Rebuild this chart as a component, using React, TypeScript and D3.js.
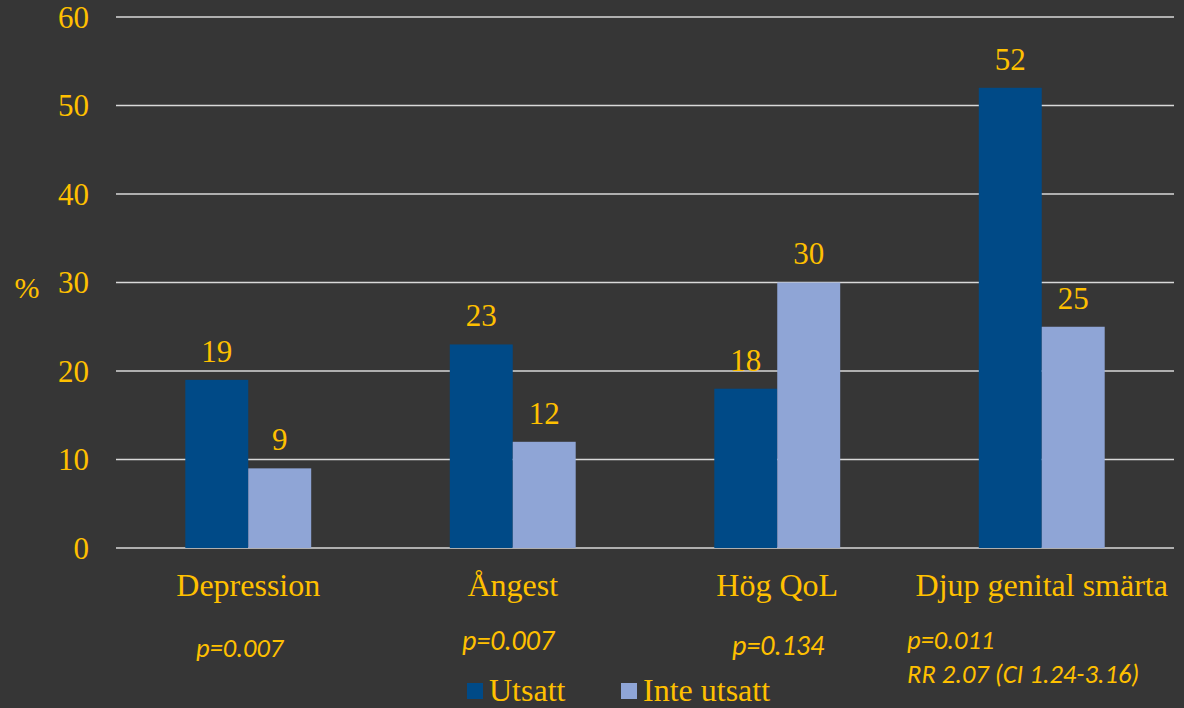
import { useEffect, useRef } from 'react';
import * as d3 from 'd3';

const categories = ['Depression', 'Ångest', 'Hög QoL', 'Djup genital smärta'];
const utsatt = [19, 23, 18, 52];
const inteUtsatt = [9, 12, 30, 25];
const seriesNames = ['Utsatt', 'Inte utsatt'];
const yTicks = [0, 10, 20, 30, 40, 50, 60];
const pNotes = [['p=0.007'], ['p=0.007'], ['p=0.134'], ['p=0.011', 'RR 2.07 (CI 1.24-3.16)']];

const W = 1184;
const H = 708;
const BG = '#363636';
const GOLD = '#ffc000';
const COLORS = ['#004a87', '#8fa5d6'];
const SERIF = '"Liberation Serif", "Times New Roman", serif';
const SANS = '"Carlito", "Liberation Sans", "Open Sans", sans-serif';

export default function App() {
    const svgRef = useRef<SVGSVGElement>(null);

    useEffect(() => {
        if (!svgRef.current) return;
        const svg = d3.select(svgRef.current);
        svg.selectAll('*').remove();

        const margin = { top: 17, left: 116 };
        const plotRight = 1174;
        const plotBottom = 548;

        svg.append('rect').attr('width', W).attr('height', H).attr('fill', BG);

        const y = d3.scaleLinear().domain([0, 60]).range([plotBottom, margin.top]);
        const x0 = d3.scaleBand<string>().domain(categories).range([margin.left, plotRight]).padding(0);
        const barW = x0.bandwidth() * 0.238;
        const x1 = d3.scaleBand<string>().domain(seriesNames).range([0, barW * 2]).padding(0);

        // grid
        svg.append('g')
            .selectAll('line')
            .data(yTicks)
            .enter()
            .append('line')
            .attr('x1', margin.left)
            .attr('x2', plotRight)
            .attr('y1', d => y(d))
            .attr('y2', d => y(d))
            .attr('stroke', '#d9d9d9')
            .attr('stroke-width', 1.5);

        // y tick labels
        svg.append('g')
            .selectAll('text')
            .data(yTicks)
            .enter()
            .append('text')
            .attr('x', 89)
            .attr('y', d => y(d))
            .attr('dy', '0.35em')
            .attr('text-anchor', 'end')
            .attr('font-family', SERIF)
            .attr('font-size', 31)
            .attr('fill', GOLD)
            .text(d => d);

        svg.append('text')
            .attr('x', 27)
            .attr('y', y(30) + 5)
            .attr('dy', '0.35em')
            .attr('text-anchor', 'middle')
            .attr('font-family', SERIF)
            .attr('font-size', 30)
            .attr('fill', GOLD)
            .text('%');

        const series = [utsatt, inteUtsatt];
        series.forEach((vals, si) => {
            const g = svg.append('g');
            const left = (c: string) => (x0(c) ?? 0) + x0.bandwidth() / 2 - barW + (x1(seriesNames[si]) ?? 0);
            g.selectAll('rect')
                .data(vals)
                .enter()
                .append('rect')
                .attr('x', (_, i) => left(categories[i]))
                .attr('y', d => y(d))
                .attr('width', x1.bandwidth())
                .attr('height', d => plotBottom - y(d))
                .attr('fill', COLORS[si]);

            g.selectAll('text')
                .data(vals)
                .enter()
                .append('text')
                .attr('x', (_, i) => left(categories[i]) + x1.bandwidth() / 2)
                .attr('y', d => y(d) - 29)
                .attr('dy', '0.35em')
                .attr('text-anchor', 'middle')
                .attr('font-family', SERIF)
                .attr('font-size', 31)
                .attr('fill', GOLD)
                .text(d => d);
        });

        // category labels
        svg.append('g')
            .selectAll('text')
            .data(categories)
            .enter()
            .append('text')
            .attr('x', d => (x0(d) ?? 0) + x0.bandwidth() / 2)
            .attr('y', 585)
            .attr('dy', '0.35em')
            .attr('text-anchor', 'middle')
            .attr('font-family', SERIF)
            .attr('font-size', 32)
            .attr('fill', GOLD)
            .text(d => d);

        // p-value notes (hand placed like the slide)
        const noteX = [196, 462, 732, 907];
        const noteY = [648, 640, 645, 640];
        const noteSize = [26.5, 28, 28, 26.5];
        pNotes.forEach((lines, i) => {
            lines.forEach((t, li) => {
                svg.append('text')
                    .attr('x', noteX[i])
                    .attr('y', noteY[i] + li * 34)
                    .attr('dy', '0.35em')
                    .attr('font-family', SANS)
                    .attr('font-style', 'italic')
                    .attr('font-size', noteSize[i])
                    .attr('fill', GOLD)
                    .text(t);
            });
        });

        // legend
        const legendX = [467, 621];
        seriesNames.forEach((name, i) => {
            svg.append('rect')
                .attr('x', legendX[i])
                .attr('y', 683)
                .attr('width', 16)
                .attr('height', 16)
                .attr('fill', COLORS[i]);
            svg.append('text')
                .attr('x', legendX[i] + 22)
                .attr('y', 690)
                .attr('dy', '0.35em')
                .attr('font-family', SERIF)
                .attr('font-size', 32)
                .attr('fill', GOLD)
                .text(name);
        });
    }, []);

    return (
        <svg
            ref={svgRef}
            width={W}
            height={H}
            viewBox={`0 0 ${W} ${H}`}
            style={{ position: 'absolute', left: 0, top: 0, display: 'block' }}
        />
    );
}
